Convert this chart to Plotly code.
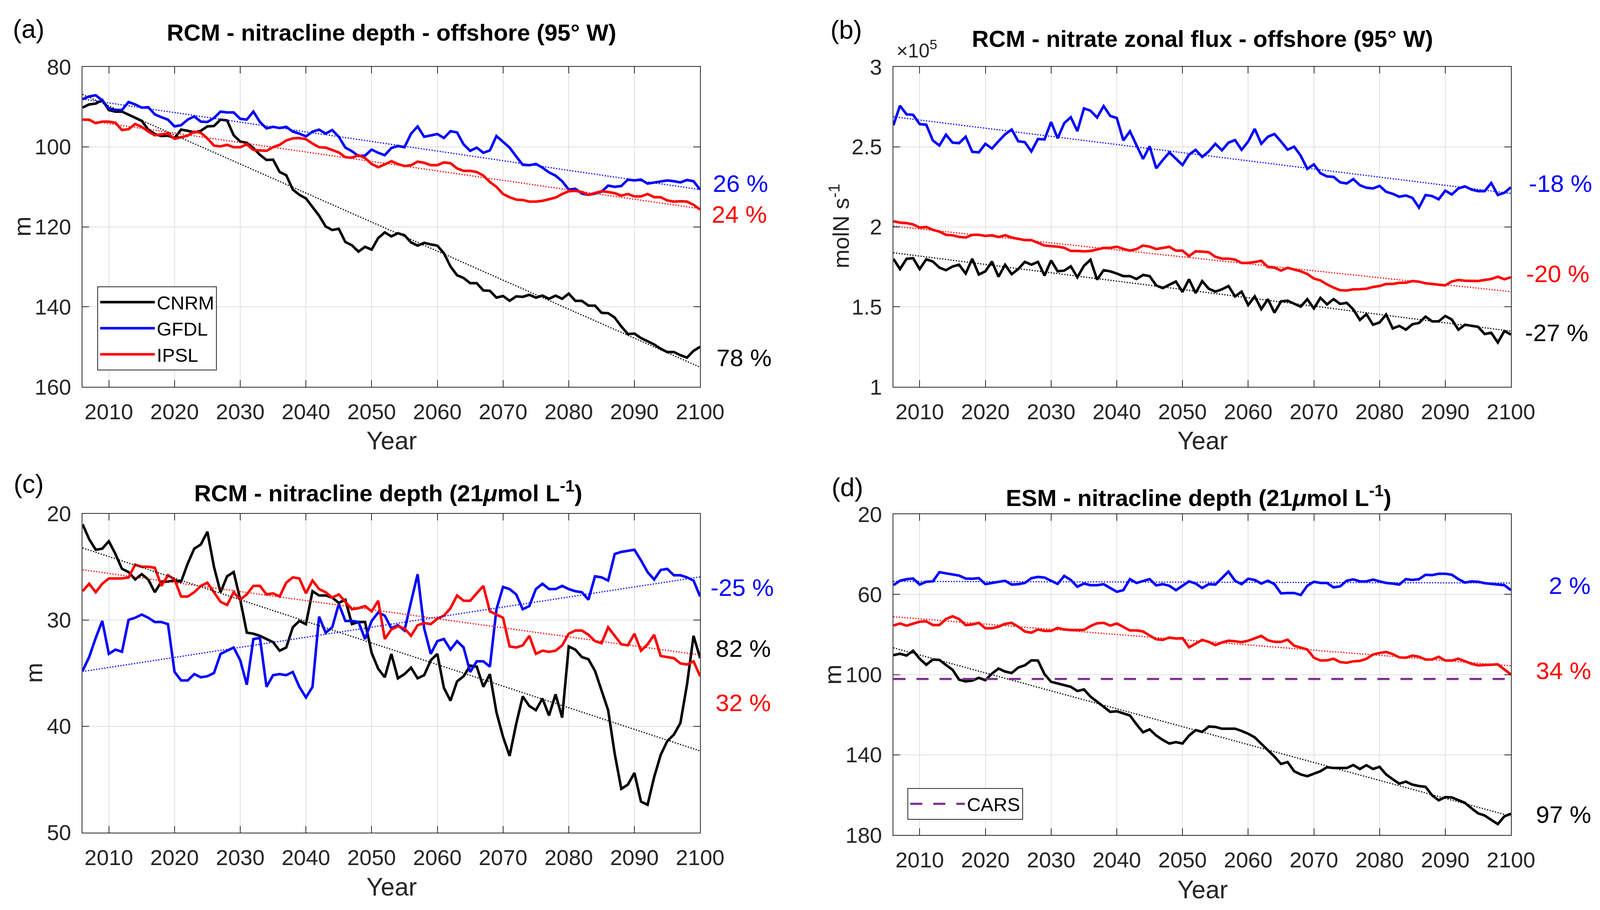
import numpy as np
import plotly.graph_objects as go

W, H = 4205, 2329
years = list(range(2006, 2101))

# ---------------- panel (a): RCM nitracline depth offshore (m) ----------------
a_cnrm = [90.2, 89.4, 89.2, 88.3, 90.8, 91.2, 91.2, 92.0, 92.8, 93.5, 95.7, 96.8, 97.3, 97.2, 97.8, 95.7,
          96.0, 96.4, 96.0, 94.9, 94.8, 93.2, 93.4, 97.1, 98.7, 99.0, 100.3, 102.0, 103.3, 103.2, 106.3,
          107.1, 110.7, 112.0, 112.9, 115.0, 117.2, 119.9, 120.8, 120.5, 123.8, 124.6, 126.2, 125.0, 125.7,
          122.8, 121.4,
          122.4, 121.6, 122.1, 123.9, 124.7, 124.0, 124.4, 124.7, 126.6, 129.9, 132.1, 132.8, 134.1, 134.1,
          135.9, 136.0, 137.7, 137.3, 138.5, 137.4, 137.5, 137.0, 137.7, 137.2, 138.0, 137.2, 138.0, 136.7,
          138.5, 138.5, 139.7, 139.7, 141.5, 141.6, 142.7, 144.9, 146.8, 146.7, 147.8, 148.6, 149.4, 150.5,
          151.3, 151.3, 152.1, 152.7, 151.0, 150.0]
a_gfdl = [88.1, 87.4, 87.1, 88.4, 90.4, 90.8, 90.8, 88.8, 89.4, 90.2, 90.1, 91.9, 92.6, 93.2, 94.9, 94.6,
          93.2, 92.4, 93.7, 93.8, 92.8, 91.2, 91.4, 91.4, 93.0, 93.2, 91.2, 93.8, 95.4, 95.0, 95.3, 95.0,
          96.2, 96.7, 97.4, 96.2, 95.7, 96.7, 95.8, 97.5, 100.2, 101.1, 102.3, 102.2, 100.7, 101.5, 102.1,
          100.3, 99.8, 100.1, 96.7, 94.9, 97.5, 97.1, 96.8, 97.8, 96.1, 96.4, 99.4, 101.0, 100.2, 101.5,
          100.9, 97.3, 98.7, 100.2, 102.4, 104.5, 104.6, 104.3, 105.2, 106.4, 107.2, 108.6, 110.7, 110.5,
          111.7, 112.0, 111.7, 111.2, 109.7, 110.0, 109.8, 108.2, 108.4, 108.2, 109.2, 108.9, 108.6, 108.4,
          108.6, 108.9, 108.3, 108.6, 110.7]
a_ipsl = [93.2, 93.2, 94.1, 93.7, 93.7, 94.0, 95.8, 95.6, 94.3, 95.0, 96.2, 97.1, 96.9, 96.7, 98.0, 97.6,
          97.2, 96.2, 96.5, 97.9, 99.7, 99.9, 99.5, 100.1, 100.1, 99.4, 100.8, 100.9, 101.0, 100.1, 99.5,
          98.4, 97.9, 97.8, 98.1, 99.2, 100.1, 100.2, 100.8, 101.4, 102.6, 102.7, 102.1, 102.8, 104.3,
          105.1, 104.4,
          103.6, 104.3, 104.8, 104.6, 103.7, 104.0, 104.6, 104.6, 103.9, 104.1, 105.4, 106.0, 106.0, 106.3,
          107.2, 108.8, 110.0, 111.8, 112.6, 113.2, 113.3, 113.7, 113.7, 113.5, 113.1, 112.7, 111.8, 111.1,
          111.0, 111.3, 112.0, 111.6, 111.1, 111.3, 111.6, 112.2, 111.8, 112.4, 112.4, 111.8, 112.6, 112.6,
          113.4, 113.7, 113.6, 113.7, 114.5, 115.7]

# ---------------- panel (b): RCM nitrate zonal flux (x 1e5 molN s-1) ----------------
b_cnrm = [1.800, 1.736, 1.800, 1.804, 1.736, 1.797, 1.783, 1.745, 1.729, 1.752, 1.763, 1.708, 1.800, 1.702,
          1.722, 1.783, 1.688, 1.763, 1.704, 1.736, 1.781, 1.763, 1.781, 1.695, 1.790, 1.722, 1.726, 1.753,
          1.684, 1.756, 1.794, 1.670, 1.729, 1.722, 1.708, 1.692, 1.692, 1.674, 1.699, 1.692, 1.634, 1.617,
          1.638, 1.658, 1.593, 1.672, 1.586,
          1.661, 1.613, 1.595, 1.609, 1.630, 1.565, 1.595, 1.511, 1.565, 1.486, 1.548, 1.463, 1.534, 1.538,
          1.518, 1.501, 1.548, 1.490, 1.556, 1.515, 1.548, 1.518, 1.525, 1.484, 1.418, 1.454, 1.388, 1.402,
          1.452, 1.365, 1.381, 1.357, 1.391, 1.399, 1.439, 1.409, 1.409, 1.443, 1.420, 1.357, 1.388, 1.381,
          1.375, 1.330, 1.338, 1.277, 1.349, 1.327]
b_gfdl = [2.635, 2.757, 2.703, 2.700, 2.642, 2.638, 2.540, 2.508, 2.576, 2.526, 2.523, 2.563, 2.469, 2.465,
          2.519, 2.489, 2.535, 2.578, 2.608, 2.535, 2.529, 2.471, 2.549, 2.546, 2.655, 2.553, 2.648, 2.685,
          2.598, 2.740, 2.726, 2.683, 2.755, 2.693, 2.680, 2.540, 2.597, 2.512, 2.424, 2.503, 2.366, 2.417,
          2.465, 2.426, 2.386, 2.451, 2.481,
          2.437, 2.471, 2.519, 2.478, 2.526, 2.542, 2.481, 2.533, 2.612, 2.519, 2.563, 2.580, 2.533, 2.482,
          2.501, 2.444, 2.362, 2.390, 2.335, 2.315, 2.312, 2.278, 2.271, 2.298, 2.260, 2.244, 2.240, 2.256,
          2.219, 2.206, 2.188, 2.196, 2.181, 2.120, 2.199, 2.192, 2.172, 2.226, 2.202, 2.240, 2.253, 2.233,
          2.223, 2.223, 2.274, 2.199, 2.213, 2.247]
b_ipsl = [2.035, 2.026, 2.023, 2.015, 1.995, 1.999, 1.981, 1.970, 1.950, 1.947, 1.937, 1.933, 1.950, 1.950,
          1.943, 1.947, 1.936, 1.947, 1.933, 1.924, 1.917, 1.917, 1.899, 1.883, 1.879, 1.876, 1.869, 1.849,
          1.849, 1.847, 1.849, 1.858, 1.868, 1.868, 1.876, 1.862, 1.851, 1.861, 1.883, 1.876, 1.861, 1.868,
          1.875, 1.851, 1.851, 1.817, 1.847,
          1.845, 1.841, 1.813, 1.801, 1.801, 1.795, 1.774, 1.774, 1.780, 1.788, 1.749, 1.745, 1.726, 1.744,
          1.733, 1.722, 1.705, 1.677, 1.665, 1.640, 1.620, 1.604, 1.602, 1.609, 1.610, 1.613, 1.624, 1.630,
          1.643, 1.643, 1.650, 1.651, 1.661, 1.657, 1.647, 1.643, 1.636, 1.634, 1.658, 1.668, 1.663, 1.663,
          1.661, 1.668, 1.674, 1.688, 1.672, 1.685]

# ---------------- panel (c): RCM nitracline depth 21 umol/L (m) ----------------
c_cnrm = [21.0, 22.4, 23.4, 23.3, 22.6, 23.8, 25.2, 25.5, 26.2, 25.7, 26.2, 27.4, 26.4, 26.4, 26.3, 26.4,
          24.7, 23.3, 22.9, 21.7, 25.0, 27.4, 25.9, 25.5, 28.1, 31.2, 31.3, 31.5, 31.8, 32.1, 32.9, 32.6,
          30.7, 30.1, 30.4, 27.3, 27.7, 27.7, 27.9, 28.4, 28.1, 30.4, 30.2, 30.2, 33.1, 34.6, 35.4,
          33.2, 35.5, 35.1, 34.5, 35.5, 35.2, 33.8, 33.2, 36.4, 37.6, 35.8, 35.3, 34.3, 34.4, 36.3, 35.1,
          38.7, 41.0, 42.8, 39.8, 37.2, 38.1, 38.5, 37.4, 39.0, 37.0, 39.2, 32.5, 32.8, 33.5, 33.7, 34.8,
          36.6, 38.5, 42.6, 45.9, 45.5, 44.4, 47.1, 47.4, 44.8, 42.7, 41.4, 40.8, 39.7, 36.1, 31.5, 33.6]
c_gfdl = [34.8, 33.5, 31.7, 30.1, 33.2, 32.8, 33.0, 30.0, 29.8, 29.5, 29.8, 30.2, 30.2, 30.4, 34.9, 35.7,
          35.7, 35.1, 35.4, 35.3, 35.0, 33.2, 32.9, 32.6, 33.8, 36.1, 31.8, 31.7, 36.3, 35.2, 35.1, 35.2,
          34.9, 36.3, 37.3, 36.3, 29.7, 31.2, 30.7, 28.5, 30.1, 30.1, 30.2, 31.8, 30.1, 29.3, 29.6,
          30.8, 30.5, 31.0, 28.3, 25.7, 30.8, 33.2, 32.0, 31.8, 32.8, 32.0, 32.6, 34.9, 33.9, 33.9, 34.4,
          29.0, 26.9, 27.1, 27.6, 29.0, 28.7, 27.1, 26.6, 27.1, 27.1, 26.8, 27.1, 27.3, 27.4, 28.1, 25.9,
          26.0, 26.3, 23.8, 23.6, 23.5, 23.4, 24.4, 25.5, 26.2, 25.3, 25.2, 25.8, 25.8, 26.0, 26.3, 27.8]
c_ipsl = [27.3, 26.6, 27.4, 26.6, 26.1, 26.1, 26.1, 26.0, 24.8, 25.0, 25.0, 25.1, 26.8, 25.8, 26.2, 27.8,
          27.8, 27.4, 26.8, 26.5, 27.4, 28.3, 28.6, 27.4, 28.1, 27.6, 26.8, 26.8, 27.6, 27.5, 27.8, 26.5,
          26.0, 26.1, 27.5, 26.3, 27.1, 27.4, 27.9, 27.6, 28.3, 29.0, 28.9, 28.7, 29.2, 28.2, 31.8,
          30.9, 30.6, 30.8, 31.5, 30.5, 30.3, 30.4, 29.9, 29.6, 28.9, 27.7, 28.2, 28.2, 27.5, 26.8, 29.2,
          29.5, 29.8, 32.5, 32.6, 32.4, 31.5, 33.2, 32.9, 33.0, 32.9, 32.4, 31.3, 31.0, 31.0, 31.4, 32.0,
          32.2, 30.7, 31.5, 32.3, 32.4, 31.3, 32.9, 32.3, 31.4, 33.4, 33.5, 33.6, 34.1, 34.2, 33.9, 35.3]

# ---------------- panel (d): ESM nitracline depth 21 umol/L (m) ----------------
d_cnrm = [90.3, 89.6, 90.5, 88.1, 92.1, 95.1, 92.5, 92.7, 95.2, 97.6, 102.5, 103.4, 103.0, 101.6, 102.8,
          99.5, 97.0, 98.5, 99.2, 96.5, 95.4, 92.9, 93.0, 99.8, 103.6, 104.4, 105.2, 106.1, 108.2, 107.4,
          111.0, 113.6, 116.1, 118.6, 118.3, 119.3, 120.4, 124.8, 128.8, 127.3, 130.4, 132.6, 134.4, 133.7,
          134.4, 130.4, 127.7,
          128.6, 125.9, 126.1, 127.0, 127.0, 127.0, 128.1, 129.5, 131.3, 134.4, 137.8, 140.9, 144.6, 143.6,
          148.2, 149.8, 150.7, 149.6, 148.2, 146.2, 146.6, 146.6, 146.6, 145.1, 147.1, 145.2, 147.1, 146.0,
          149.8, 152.2, 154.4, 153.4, 154.9, 155.6, 156.0, 160.2, 162.7, 161.1, 161.3, 162.6, 164.0, 166.7,
          169.2, 170.3, 172.4, 174.6, 170.7, 169.4]
d_gfdl = [55.4, 53.2, 52.4, 52.1, 55.1, 53.7, 53.5, 48.9, 49.5, 50.0, 50.6, 52.1, 52.2, 51.9, 54.9, 54.3,
          53.8, 53.2, 55.1, 54.9, 54.3, 51.9, 51.3, 51.6, 53.2, 54.8, 50.8, 52.8, 56.2, 54.6, 55.4, 55.4,
          54.9, 56.8, 58.7, 57.9, 52.4, 54.3, 53.2, 52.4, 55.5, 54.9, 55.7, 57.9, 55.7, 53.5, 54.6,
          56.8, 54.9, 55.1, 51.9, 48.6, 53.2, 54.9, 52.2, 52.8, 54.6, 53.2, 54.9, 59.5, 59.3, 59.3, 60.3,
          55.7, 53.7, 54.3, 54.3, 56.5, 56.0, 53.2, 52.5, 53.5, 53.5, 52.6, 53.5, 54.3, 54.6, 55.1, 52.4,
          52.8, 52.4, 50.2, 50.4, 49.7, 49.7, 50.2, 52.4, 54.1, 53.5, 53.7, 54.4, 54.8, 55.1, 55.4, 57.9]
d_ipsl = [75.5, 74.5, 75.6, 74.5, 73.6, 73.4, 75.3, 75.3, 72.3, 70.9, 72.3, 75.3, 75.0, 74.2, 76.9, 76.9,
          76.1, 74.7, 74.2, 76.1, 78.5, 79.1, 77.5, 78.2, 78.2, 76.7, 77.5, 77.8, 77.7, 77.7, 75.8, 74.4,
          74.2, 75.6, 74.5, 76.4, 78.0, 78.0, 78.5, 80.5, 82.4, 82.7, 81.5, 82.0, 81.8, 86.4, 84.5,
          82.7, 83.7, 85.3, 84.0, 83.1, 83.4, 83.8, 83.1, 82.0, 80.7, 82.9, 83.7, 83.7, 82.6, 85.6, 86.4,
          87.5, 91.6, 93.0, 92.9, 92.1, 93.8, 94.1, 93.4, 93.2, 92.1, 90.0, 89.2, 88.7, 89.8, 91.4, 91.6,
          90.5, 91.1, 92.5, 92.5, 91.1, 93.0, 93.0, 92.1, 93.4, 94.6, 95.4, 95.1, 95.1, 94.9, 97.3, 100.0]
cars_depth = 102.2

model_names = ["CNRM", "GFDL", "IPSL"]
model_colors = ["#000000", "#0000FF", "#FF0000"]

# percent labels: (text, y value) per model for each panel
a_pct = [("78 %", 152.7), ("26 %", 109.2), ("24 %", 116.9)]
b_pct = [("-27 %", 1.339), ("-18 %", 2.272), ("-20 %", 1.706)]
c_pct = [("82 %", 32.7), ("-25 %", 26.95), ("32 %", 37.8)]
d_pct = [("97 %", 169.7), ("2 %", 55.5), ("34 %", 98.0)]
a_pct_x = [1881, 1871, 1868]
b_pct_x = [4006, 4016, 4009]
c_pct_x = [1879, 1865, 1879]
d_pct_x = [4035, 4068, 4035]

x_ticks = list(range(2010, 2101, 10))
a_yticks = [80, 100, 120, 140, 160]
b_yticks = [1, 1.5, 2, 2.5, 3]
b_yticktext = ["1", "1.5", "2", "2.5", "3"]
c_yticks = [20, 30, 40, 50]
d_yticks = [20, 60, 100, 140, 180]

titles = ["RCM - nitracline depth - offshore (95° W)",
          "RCM - nitrate zonal flux - offshore (95° W)",
          "RCM - nitracline depth (21<i>μ</i>mol L<sup>-1</sup>)",
          "ESM - nitracline depth (21<i>μ</i>mol L<sup>-1</sup>)"]
letters = ["(a)", "(b)", "(c)", "(d)"]

for arr in [a_cnrm, a_gfdl, a_ipsl, b_cnrm, b_gfdl, b_ipsl, c_cnrm, c_gfdl, c_ipsl, d_cnrm, d_gfdl, d_ipsl]:
    assert len(arr) == len(years), len(arr)

FONT = "Liberation Sans"
AX = "#262626"


def px(x):
    return x / W


def py(y):
    return 1 - y / H


fig = go.Figure()

panels = [
    dict(xa="x", ya="y", data=[a_cnrm, a_gfdl, a_ipsl], legend=True),
    dict(xa="x2", ya="y2", data=[b_cnrm, b_gfdl, b_ipsl], legend=False),
    dict(xa="x3", ya="y3", data=[c_cnrm, c_gfdl, c_ipsl], legend=False),
    dict(xa="x4", ya="y4", data=[d_cnrm, d_gfdl, d_ipsl], legend=False),
]

yrs = np.array(years, dtype=float)
for p in panels:
    for vals, name, col in zip(p["data"], model_names, model_colors):
        fig.add_trace(go.Scatter(x=years, y=vals, mode="lines", name=name,
                                 line=dict(color=col, width=6.5),
                                 xaxis=p["xa"], yaxis=p["ya"], showlegend=p["legend"]))
    for vals, name, col in zip(p["data"], model_names, model_colors):
        k, b0 = np.polyfit(yrs, np.array(vals), 1)
        fig.add_trace(go.Scatter(x=[years[0], years[-1]], y=[k * years[0] + b0, k * years[-1] + b0],
                                 mode="lines", line=dict(color=col, width=3, dash="3px,4px"),
                                 xaxis=p["xa"], yaxis=p["ya"], showlegend=False, hoverinfo="skip"))

fig.add_trace(go.Scatter(x=[years[0], years[-1]], y=[cars_depth, cars_depth], mode="lines", name="CARS",
                         line=dict(color="#7E2F8E", width=5.5, dash="31px,28px"),
                         xaxis="x4", yaxis="y4", legend="legend2"))

xdom_left = [px(217), px(1840)]
xdom_right = [px(2348), px(3971)]
ydom_top = [py(990), py(171)]
ydom_c = [py(2130.5), py(1314.5)]
ydom_d = [py(2137), py(1316)]

tickfont = dict(family=FONT, size=56, color=AX)


def xaxis(dom, anchor):
    return dict(domain=dom, anchor=anchor, range=[2006, 2100], tickvals=x_ticks,
                ticks="inside", ticklen=17, tickwidth=2, tickcolor=AX,
                showline=True, linecolor=AX, linewidth=2, mirror="ticks",
                showgrid=True, gridcolor="#e0e0e0", gridwidth=2, zeroline=False,
                tickfont=tickfont, ticklabelstandoff=14, automargin=False)


def yaxis(dom, anchor, rng, tv, tt=None):
    d = dict(domain=dom, anchor=anchor, range=rng, tickvals=tv,
             ticks="inside", ticklen=17, tickwidth=2, tickcolor=AX,
             showline=True, linecolor=AX, linewidth=2, mirror="ticks",
             showgrid=True, gridcolor="#e0e0e0", gridwidth=2, zeroline=False,
             tickfont=tickfont, ticklabelstandoff=16, automargin=False)
    if tt is not None:
        d["ticktext"] = tt
    return d


fig.update_layout(
    width=W, height=H, margin=dict(l=0, r=0, t=0, b=0, autoexpand=False),
    paper_bgcolor="white", plot_bgcolor="white",
    xaxis=xaxis(xdom_left, "y"),
    yaxis=yaxis(ydom_top, "x", [160, 80], a_yticks),
    xaxis2=xaxis(xdom_right, "y2"),
    yaxis2=yaxis(ydom_top, "x2", [1, 3], b_yticks, b_yticktext),
    xaxis3=xaxis(xdom_left, "y3"),
    yaxis3=yaxis(ydom_c, "x3", [50, 20], c_yticks),
    xaxis4=xaxis(xdom_right, "y4"),
    yaxis4=yaxis(ydom_d, "x4", [180, 20], d_yticks),
    legend=dict(x=px(256), y=py(733), xanchor="left", yanchor="top",
                bgcolor="white", bordercolor=AX, borderwidth=2,
                font=dict(family=FONT, size=49, color="black"), itemwidth=140,
                tracegroupgap=0),
    legend2=dict(x=px(2385), y=py(2017), xanchor="left", yanchor="top",
                 bgcolor="white", bordercolor=AX, borderwidth=2,
                 font=dict(family=FONT, size=49, color="black"), itemwidth=140),
    showlegend=True,
)

ann = []
# panel letters
for t, (x, y) in zip(letters, [(32, 74), (2181, 76), (34, 1238), (2184, 1247)]):
    ann.append(dict(text=t, x=px(x), y=py(y), xref="paper", yref="paper", xanchor="left", yanchor="middle",
                    showarrow=False, font=dict(family=FONT, size=66, color="black")))
# titles
for t, (x, y) in zip(titles, [(1029, 84), (3160, 99), (1020, 1258), (3150, 1270)]):
    ann.append(dict(text="<b>" + t + "</b>", x=px(x), y=py(y), xref="paper", yref="paper",
                    xanchor="center", yanchor="middle", showarrow=False,
                    font=dict(family=FONT, size=60, color="black")))
# x titles
for (x, y) in [(1029, 1128), (3160, 1128), (1029, 2270), (3160, 2277)]:
    ann.append(dict(text="Year", x=px(x), y=py(y), xref="paper", yref="paper", xanchor="center",
                    yanchor="middle", showarrow=False, font=dict(family=FONT, size=64, color=AX)))
# y titles
for t, (x, y) in zip(["m", "molN s<sup>-1</sup>", "m", "m"], [(57, 580), (2205, 578), (88, 1722), (2188, 1726)]):
    ann.append(dict(text=t, x=px(x), y=py(y), xref="paper", yref="paper", xanchor="center",
                    yanchor="middle", textangle=-90, showarrow=False,
                    font=dict(family=FONT, size=62 if t == "m" else 58, color=AX)))
# x10^5
ann.append(dict(text="×10<sup>5</sup>", x=px(2354), y=py(160), xref="paper", yref="paper", xanchor="left",
                yanchor="bottom", showarrow=False, font=dict(family=FONT, size=50, color=AX)))
# percent labels
for pct, xs, ya in [(a_pct, a_pct_x, "y"), (b_pct, b_pct_x, "y2"), (c_pct, c_pct_x, "y3"), (d_pct, d_pct_x, "y4")]:
    for (t, yv), xv, col in zip(pct, xs, model_colors):
        ann.append(dict(text=t, x=px(xv), y=yv, xref="paper", yref=ya, xanchor="left", yanchor="middle",
                        showarrow=False, font=dict(family=FONT, size=62, color=col)))

fig.update_layout(annotations=ann)

# fit the figure exactly to the browser viewport (no body margin, no scrollbars)
fit_js = (
    "document.documentElement.style.margin='0';document.body.style.margin='0';"
    "document.documentElement.style.overflow='hidden';document.body.style.overflow='hidden';"
    "var gd=document.getElementById('{plot_id}');"
    "var w=document.documentElement.clientWidth||window.innerWidth;"
    "var h=document.documentElement.clientHeight||window.innerHeight;"
    "gd.style.width=w+'px';gd.style.height=h+'px';"
    "return Plotly.relayout(gd,{width:w,height:h});"
)
fig.write_html("out.html", config={"displayModeBar": False}, post_script=fit_js)
